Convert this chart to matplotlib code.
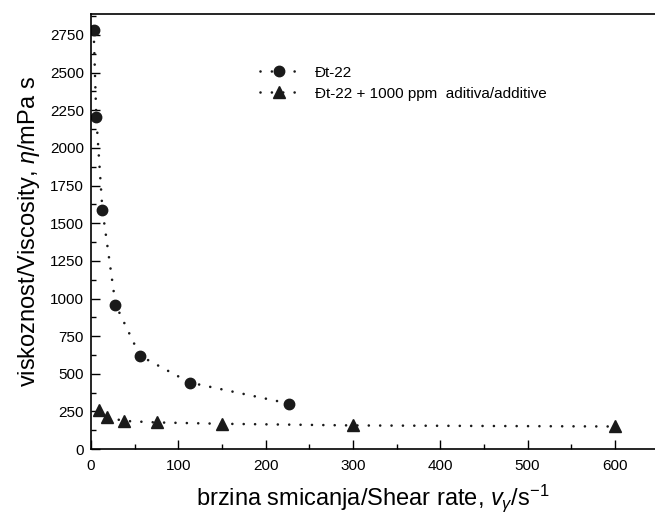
import matplotlib
matplotlib.use('Agg')
import matplotlib.pyplot as plt
from matplotlib.ticker import MultipleLocator

plt.rcParams['font.family'] = ['Liberation Sans', 'DejaVu Sans']
plt.rcParams['mathtext.fontset'] = 'custom'
plt.rcParams['mathtext.rm'] = 'Liberation Sans'
plt.rcParams['mathtext.it'] = 'Liberation Sans:italic'

# shear rate (1/s) and viscosity (mPa s)
rate_base = [3, 6, 13, 28, 56, 113, 227]
visc_base = [2780, 2205, 1590, 960, 620, 442, 302]
rate_add = [9.4, 18.8, 37.5, 75, 150, 300, 600]
visc_add = [262, 212, 187, 177, 168, 157, 150]

lbl_base = 'Đt-22'
lbl_add = 'Đt-22 + 1000 ppm  aditiva/additive'

fig = plt.figure(figsize=(6.55, 5.15), dpi=100)
ax = fig.add_axes([0.139, 0.128, 0.861, 0.845])

dots = (0, (0.01, 4.3))
for x, y, m, ms, lbl in [(rate_base, visc_base, 'o', 7.5, lbl_base),
                         (rate_add, visc_add, '^', 8, lbl_add)]:
    ax.plot(x, y, color='#1a1a1a', ls=dots, lw=1.9, dash_capstyle='round',
            marker=m, ms=ms, label=lbl)

ax.set_xlim(0, 646)
ax.set_ylim(0, 2890)
ax.xaxis.set_major_locator(MultipleLocator(100))
ax.xaxis.set_minor_locator(MultipleLocator(50))
ax.yaxis.set_major_locator(MultipleLocator(250))
ax.yaxis.set_minor_locator(MultipleLocator(125))
ax.tick_params(which='both', direction='in', labelsize=11, width=1)
ax.tick_params(which='major', length=6.5, pad=7)
ax.tick_params(which='minor', length=3.8)
ax.tick_params(axis='y', pad=5)
ax.spines['right'].set_visible(False)
for s in ('left', 'bottom', 'top'):
    ax.spines[s].set_linewidth(1.2)

ax.set_xlabel(r'brzina smicanja/Shear rate, $v_{\gamma}$/s$^{-1}$', fontsize=17, labelpad=7)
ax.set_ylabel(r'viskoznost/Viscosity, $\eta$/mPa s', fontsize=17, labelpad=6)

ax.legend(loc='upper left', bbox_to_anchor=(0.288, 0.895), frameon=False, fontsize=11,
          handlelength=2.6, handletextpad=1.0, labelspacing=0.45, borderaxespad=0)

fig.savefig('out.png', dpi=100)
